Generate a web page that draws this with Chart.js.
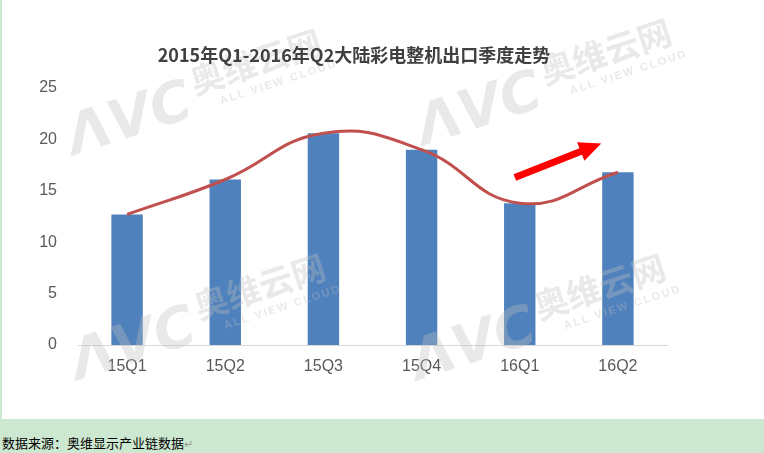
<!DOCTYPE html>
<html>
<head>
<meta charset="utf-8">
<script src="https://cdn.jsdelivr.net/npm/chart.js@4.4.1/dist/chart.umd.min.js"></script>
<style>
  html, body { margin: 0; padding: 0; }
  body { width: 764px; height: 453px; background: #cde8d0; position: relative; overflow: hidden; }
  #wrap { position: absolute; left: 2px; top: 0; width: 762px; height: 419px; background: #fff; }
  #note { position: absolute; left: 2px; top: 433px; font: 13px "Noto Sans CJK SC", sans-serif; color: #000; white-space: nowrap; }
  #note span { color: #999; font-size: 11px; }
</style>
</head>
<body>
<div id="wrap"><canvas id="c" width="762" height="419"></canvas></div>
<div id="note">数据来源：奥维显示产业链数据<span>↵</span></div>
<script>
// chart data
const quarters = ['15Q1', '15Q2', '15Q3', '15Q4', '16Q1', '16Q2'];
const exportVals = [12.7, 16.1, 20.6, 19.0, 13.8, 16.8];
const yTicks = [0, 5, 10, 15, 20, 25];
const titleText = '2015年Q1-2016年Q2大陆彩电整机出口季度走势';
// arrow from/to in data units (category index, value)
const arrowFrom = [3.95, 16.3];
const arrowTo = [4.83, 19.6];

// title drawn a bit left of centre like the original
const titlePlugin = {
  id: 'titleText',
  afterDraw(chart) {
    const ctx = chart.ctx;
    ctx.save();
    ctx.font = 'bold 18px "Noto Sans CJK SC", sans-serif';
    ctx.fillStyle = '#404040';
    ctx.textAlign = 'center';
    ctx.textBaseline = 'middle';
    ctx.fillText(titleText, 352, 55);
    ctx.restore();
  }
};

// AVC watermark, drawn over the bars but under the line
function drawMark(ctx, x, y) {
  ctx.save();
  ctx.translate(x, y);
  ctx.rotate(-18 * Math.PI / 180);
  ctx.fillStyle = 'rgba(190,190,190,0.34)';
  ctx.textBaseline = 'alphabetic';
  ctx.textAlign = 'right';
  ctx.font = 'italic bold 56px "DejaVu Sans", sans-serif';
  ctx.fillText('ΛVC', -6, 20);
  ctx.textAlign = 'left';
  ctx.font = 'bold 34px "Noto Sans CJK SC", sans-serif';
  ctx.fillText('奥维云网', 0, 0);
  ctx.font = 'bold 11px "Liberation Sans", sans-serif';
  ctx.letterSpacing = '2px';
  ctx.fillText('ALL VIEW CLOUD', 22, 17);
  ctx.restore();
}
const markPlugin = {
  id: 'marks',
  afterDatasetDraw(chart, args) {
    if (args.meta.type !== 'bar') return;
    const ctx = chart.ctx;
    drawMark(ctx, 193, 95);
    drawMark(ctx, 543, 85);
    drawMark(ctx, 197, 320);
    drawMark(ctx, 537, 320);
  }
};

const arrowPlugin = {
  id: 'arrow',
  afterDatasetsDraw(chart) {
    const xs = chart.scales.x, ys = chart.scales.y;
    const x1 = xs.getPixelForValue(arrowFrom[0]), y1 = ys.getPixelForValue(arrowFrom[1]);
    const x2 = xs.getPixelForValue(arrowTo[0]), y2 = ys.getPixelForValue(arrowTo[1]);
    const a = Math.atan2(y2 - y1, x2 - x1);
    const head = 22, half = 10;
    const bx = x2 - head * Math.cos(a), by = y2 - head * Math.sin(a);
    const ctx = chart.ctx;
    ctx.save();
    ctx.strokeStyle = '#ff0000';
    ctx.fillStyle = '#ff0000';
    ctx.lineWidth = 7;
    ctx.beginPath();
    ctx.moveTo(x1, y1);
    ctx.lineTo(bx + 2 * Math.cos(a), by + 2 * Math.sin(a));
    ctx.stroke();
    ctx.beginPath();
    ctx.moveTo(x2, y2);
    ctx.lineTo(bx + half * Math.sin(a), by - half * Math.cos(a));
    ctx.lineTo(bx - half * Math.sin(a), by + half * Math.cos(a));
    ctx.closePath();
    ctx.fill();
    ctx.restore();
  }
};

const tickFont = { family: '"Liberation Sans", sans-serif', size: 16 };

new Chart(document.getElementById('c'), {
  data: {
    labels: quarters,
    datasets: [
      {
        type: 'line',
        data: exportVals,
        borderColor: '#c0504d',
        borderWidth: 3,
        pointRadius: 0,
        tension: 0.45,
        fill: false,
        order: 0
      },
      {
        type: 'bar',
        data: exportVals,
        backgroundColor: '#4f81bd',
        categoryPercentage: 1,
        barPercentage: 0.32,
        order: 1
      }
    ]
  },
  options: {
    responsive: false,
    animation: false,
    layout: { padding: { top: 88, right: 97, left: 0, bottom: 0 } },
    plugins: { legend: { display: false }, tooltip: { enabled: false } },
    scales: {
      x: {
        grid: { display: false, drawTicks: false },
        border: { color: '#d9d9d9', width: 1 },
        ticks: { color: '#595959', font: tickFont, padding: 12 },
        afterFit(s) { s.height = 74; }
      },
      y: {
        min: 0, max: 25,
        afterBuildTicks(s) { s.ticks = yTicks.map(v => ({ value: v })); },
        grid: { display: false, drawTicks: false },
        border: { display: false },
        ticks: { color: '#595959', font: tickFont, padding: 21 },
        afterFit(s) { s.width = 76; }
      }
    }
  },
  plugins: [markPlugin, arrowPlugin, titlePlugin]
});
</script>
</body>
</html>
